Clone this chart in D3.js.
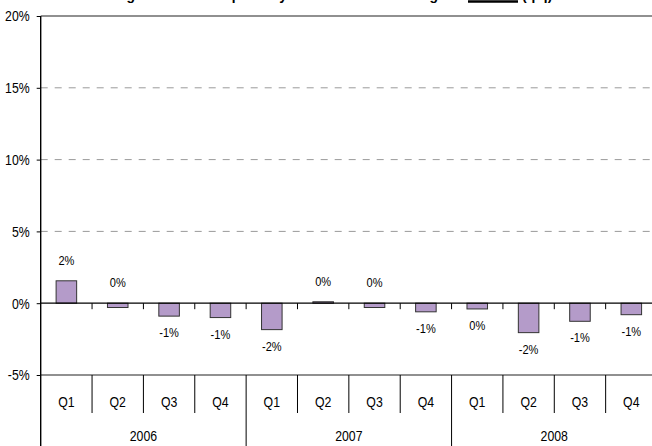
<!DOCTYPE html>
<html lang="en">
<head>
	<meta charset="UTF-8">
	<title>Quarterly change</title>
	<script type="text/javascript" src="https://cdn.jsdelivr.net/npm/d3@7/dist/d3.min.js"></script>
	<style>
		body { margin: 0; background: #fff; }
		text { font-family: 'Liberation Sans', Arial, sans-serif; fill: #000; }
	</style>
</head>
<body>
	<div class="chart"></div>
	<script type="text/javascript">
		var years = ['2006', '2007', '2008'];
		var quarters = ['Q1', 'Q2', 'Q3', 'Q4'];
		var values = [1.56, -0.3, -0.9, -1.0, -1.84, 0.1, -0.3, -0.6, -0.4, -2.05, -1.26, -0.8];
		var yTicks = [-5, 0, 5, 10, 15, 20];

		var W = 652, H = 446;
		var pLeft = 40.7, pRight = 657, pTop = 16, pBottom = 375;
		var narrow = 0.82; // condensed look of the original font

		var keys = [];
		years.forEach(function(yr){ quarters.forEach(function(q){ keys.push(yr + ' ' + q); }); });

		var svg = d3.select('.chart').append('svg')
			.attr('width', W).attr('height', H);

		var y = d3.scaleLinear().domain([-5, 20]).range([pBottom, pTop]);
		var x = d3.scaleBand().domain(keys).range([pLeft, pRight]).paddingInner(0.6).paddingOuter(0.3);
		var cell = d3.scaleBand().domain(keys).range([pLeft, pRight]);
		var yearScale = d3.scaleBand().domain(years).range([pLeft, pRight]);

		function place(px, py){ return 'translate(' + px + ',' + py + ') scale(' + narrow + ',1)'; }

		// title, mostly cut off above the picture
		var tg = svg.append('g').style('font-weight', 'bold').style('font-size', '14px');
		tg.append('text').attr('x', 135).attr('y', -0.5).attr('text-anchor', 'end').text('Net lending');
		tg.append('text').attr('x', 287).attr('y', -0.5).attr('text-anchor', 'end').text('quarterly');
		tg.append('text').attr('x', 438).attr('y', -0.5).attr('text-anchor', 'end').text('in housing');
		tg.append('text').attr('x', 493).attr('y', -0.5).attr('text-anchor', 'middle').text('market');
		tg.append('line').attr('x1', 468).attr('x2', 518).attr('y1', 1.5).attr('y2', 1.5)
			.attr('stroke', '#000').attr('stroke-width', 2.5);
		tg.append('text').attr('x', 522).attr('y', -0.5).text('(q/q)');

		// gridlines
		svg.append('g').selectAll('line').data([5, 10, 15]).enter().append('line')
			.attr('x1', pLeft).attr('x2', W)
			.attr('y1', function(d){ return y(d); }).attr('y2', function(d){ return y(d); })
			.attr('stroke', '#9a9a9a').attr('stroke-dasharray', '7,7');

		svg.append('line').attr('x1', pLeft).attr('x2', W).attr('y1', y(20)).attr('y2', y(20))
			.attr('stroke', '#222').attr('stroke-width', 1.2);
		svg.append('line').attr('x1', pLeft).attr('x2', W).attr('y1', y(-5)).attr('y2', y(-5))
			.attr('stroke', '#222').attr('stroke-width', 1.2);

		// y axis
		var yAxis = d3.axisLeft(y).tickValues(yTicks).tickSize(4).tickPadding(7)
			.tickFormat(function(d){ return d + '%'; });
		var ga = svg.append('g').attr('transform', 'translate(' + pLeft + ',0)').call(yAxis);
		ga.select('.domain').remove();
		ga.selectAll('line').attr('stroke', '#000');
		ga.selectAll('text').style('font-size', '15px')
			.attr('x', null).attr('dy', null)
			.attr('dominant-baseline', 'central')
			.attr('transform', place(-11, 0));
		svg.append('line').attr('x1', pLeft).attr('x2', pLeft).attr('y1', y(20)).attr('y2', H)
			.attr('stroke', '#000').attr('stroke-width', 1.4);

		// bars
		svg.append('g').selectAll('rect').data(values).enter().append('rect')
			.attr('x', function(d, i){ return x(keys[i]); })
			.attr('width', x.bandwidth())
			.attr('y', function(d){ return y(Math.max(0, d)); })
			.attr('height', function(d){ return Math.abs(y(d) - y(0)); })
			.attr('fill', '#b49bc9')
			.attr('stroke', '#333').attr('stroke-width', 1);

		// zero line and its ticks
		svg.append('line').attr('x1', pLeft).attr('x2', W).attr('y1', y(0)).attr('y2', y(0))
			.attr('stroke', '#000').attr('stroke-width', 1.2);
		svg.append('g').selectAll('line').data(keys.slice(1)).enter().append('line')
			.attr('x1', function(d){ return cell(d); }).attr('x2', function(d){ return cell(d); })
			.attr('y1', y(0)).attr('y2', y(0) + 6)
			.attr('stroke', '#000');

		// data labels
		function fmt(v){ return Math.round(v) + '%'; }
		svg.append('g').selectAll('text').data(values).enter().append('text')
			.attr('transform', function(d, i){
				var ly = d > -0.35 ? Math.min(y(d), y(0)) - 16 : y(d) + 21;
				return place(x(keys[i]) + x.bandwidth() / 2, ly);
			})
			.attr('text-anchor', 'middle')
			.style('font-size', '13.5px')
			.text(fmt);

		// category axis below the plot
		svg.append('g').selectAll('line').data(keys.slice(1)).enter().append('line')
			.attr('x1', function(d){ return cell(d); }).attr('x2', function(d){ return cell(d); })
			.attr('y1', pBottom).attr('y2', function(d){ return d.slice(5) === 'Q1' ? H : 413; })
			.attr('stroke', '#000');
		svg.append('g').selectAll('text').data(keys).enter().append('text')
			.attr('transform', function(d){ return place(cell(d) + cell.bandwidth() / 2, 407); })
			.attr('text-anchor', 'middle')
			.style('font-size', '15px')
			.text(function(d){ return d.slice(5); });
		svg.append('g').selectAll('text').data(years).enter().append('text')
			.attr('transform', function(d){ return place(yearScale(d) + yearScale.bandwidth() / 2, 440.5); })
			.attr('text-anchor', 'middle')
			.style('font-size', '15px')
			.text(function(d){ return d; });
	</script>
</body>
</html>
